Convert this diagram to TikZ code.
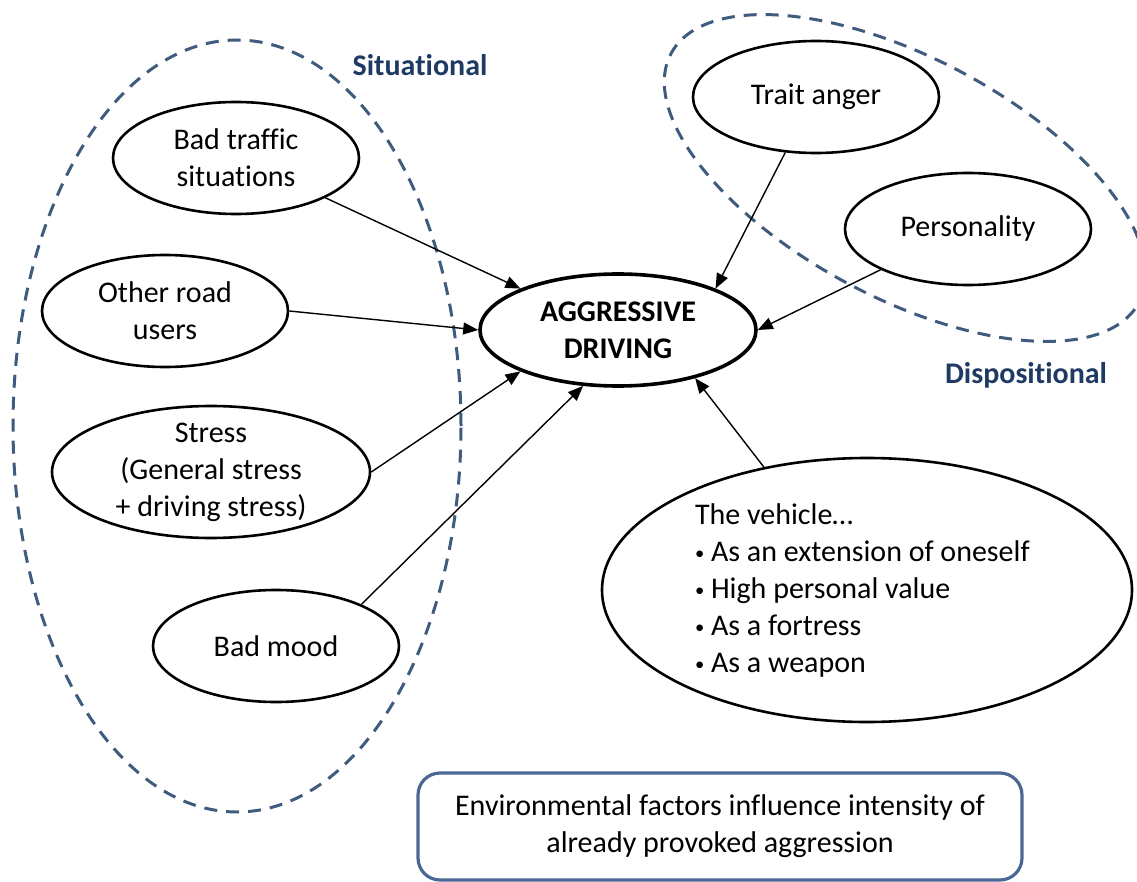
\documentclass[tikz,border=0pt]{standalone}
\usepackage{fontspec}
\usepackage{graphicx}
\setmainfont{Carlito}[Ligatures=NoCommon]
\usetikzlibrary{arrows.meta,shapes.geometric}
\definecolor{dashblue}{HTML}{3F5B7D}
\definecolor{labelblue}{HTML}{1F3A63}
\definecolor{boxblue}{HTML}{4A6896}
\newcommand\vbul{\raisebox{0.06em}{\scalebox{0.62}{•}}}
\begin{document}
\begin{tikzpicture}[x=1pt,y=-1pt,
  every node/.style={font=\fontsize{30}{37}\selectfont},
  factor/.style={ellipse, draw, line width=2.6pt, minimum width=246pt, minimum height=112pt, inner sep=0pt, align=center},
  group/.style={draw=dashblue, line width=3pt, dash pattern=on 13pt off 9pt},
  grouplabel/.style={text=labelblue, font=\fontsize{30}{37}\selectfont\bfseries, anchor=base},
  influence/.style={line width=1.4pt, -{Triangle[length=15pt,width=12pt]}}]
\useasboundingbox (0,0) rectangle (1137,882);
% group outlines
\draw[group] (237,426) ellipse [x radius=224pt, y radius=386pt];
\draw[group, rotate around={-28:(905,178)}] (905,178) ellipse [x radius=265pt, y radius=120pt];
% group labels
\node[grouplabel] (sitl) at (420,76) {Situational};
\node[grouplabel] (displ) at (1026,383) {Dispositional};
% factors
\node[factor] (bt) at (236,158) {Bad traffic\\situations};
\node[factor] (oru) at (165,311) {Other road\\users};
\node[factor, minimum width=318pt, minimum height=132pt, inner ysep=-5pt] (st) at (211,472) {Stress\\(General stress\\+ driving stress)};
\node[factor] (bm) at (276,646) {Bad mood};
\node[factor] (ta) at (816,97) {Trait anger};
\node[factor] (pers) at (968,229) {Personality};
\node[factor, line width=3.6pt, minimum width=276pt, font=\fontsize{30}{37}\selectfont\bfseries] (ad) at (618,330) {AGGRESSIVE\\DRIVING};
\node[factor, minimum width=530pt, minimum height=264pt, text width=344pt, align=flush left] (veh) at (867,590) {The vehicle…\\\vbul{} As an extension of oneself\\\vbul{} High personal value\\\vbul{} As a fortress\\\vbul{} As a weapon};
\node[draw=boxblue, line width=3.2pt, rounded corners=22pt, minimum width=604pt, minimum height=107pt, inner sep=0pt, align=center] (env) at (720,826.5) {Environmental factors influence intensity of\\already provoked aggression};
% connectors
\draw[influence] (bt.-24) -- (ad.157);
\draw[influence] (oru.east) -- (ad.west);
\draw[influence] (st.east) -- (ad.203);
\draw[influence] (bm.26) -- (ad.238);
\draw[influence] (ta.241) -- (ad.23.5);
\draw[influence] (pers.205) -- (ad.east);
\draw[influence] (veh.130) -- (ad.-32);
\end{tikzpicture}
\end{document}
